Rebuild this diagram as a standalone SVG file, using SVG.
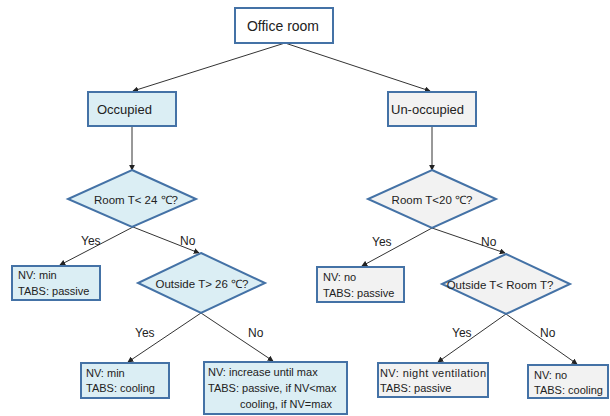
<svg xmlns="http://www.w3.org/2000/svg" width="610" height="416" viewBox="0 0 610 416">
  <style>
    .box { stroke: #4472a6; stroke-width: 2; }
    .white { fill: #ffffff; }
    .blue { fill: #dbeef4; }
    .grey { fill: #f2f2f2; }
    text { font-family: "Liberation Sans", Arial, sans-serif; fill: #222222; }
    .t14 { font-size: 14px; }
    .t13 { font-size: 13px; }
    .t12 { font-size: 12px; }
    .t11 { font-size: 11px; }
    .d { font-size: 11.5px; }
    .edge { stroke: #333333; stroke-width: 1; fill: none; marker-end: url(#arrow); }
  </style>
  <defs>
    <marker id="arrow" viewBox="0 0 8 8" refX="7" refY="4" markerWidth="6" markerHeight="6" orient="auto" markerUnits="userSpaceOnUse">
      <path d="M0,0 L8,4 L0,8 z" fill="#222222"/>
    </marker>
  </defs>
  <rect width="610" height="416" fill="#ffffff"/>

  <g id="connectors">
    <line class="edge" x1="285" y1="43" x2="133" y2="91"/>
    <line class="edge" x1="285" y1="43" x2="430" y2="91"/>
    <line class="edge" x1="132" y1="126" x2="132" y2="170"/>
    <line class="edge" x1="432" y1="126" x2="432" y2="170"/>
    <line class="edge" x1="133" y1="227" x2="60" y2="265"/>
    <line class="edge" x1="133" y1="227" x2="199" y2="253"/>
    <line class="edge" x1="432" y1="228" x2="362" y2="266"/>
    <line class="edge" x1="432" y1="228" x2="505" y2="253"/>
    <line class="edge" x1="201" y1="313" x2="128" y2="362"/>
    <line class="edge" x1="201" y1="313" x2="273" y2="361"/>
    <line class="edge" x1="506" y1="314" x2="438" y2="362"/>
    <line class="edge" x1="506" y1="314" x2="577" y2="364"/>
    <text class="t12" x="81" y="245">Yes</text>
    <text class="t12" x="180" y="245">No</text>
    <text class="t12" x="372" y="246">Yes</text>
    <text class="t12" x="481" y="246">No</text>
    <text class="t12" x="135" y="337">Yes</text>
    <text class="t12" x="248" y="337">No</text>
    <text class="t12" x="452" y="337">Yes</text>
    <text class="t12" x="540" y="337">No</text>
  </g>

  <g id="office-room">
    <rect class="box white" x="235" y="8" width="98" height="35"/>
    <text class="t14" x="283" y="31" text-anchor="middle">Office room</text>
  </g>

  <g id="occupied">
    <rect class="box blue" x="88" y="92" width="88" height="34"/>
    <text class="t13" x="97" y="114">Occupied</text>
  </g>

  <g id="unoccupied">
    <rect class="box grey" x="388" y="92" width="88" height="34"/>
    <text class="t13" x="391" y="114">Un-occupied</text>
  </g>

  <g id="room-t-24">
    <polygon class="box blue" points="132,170 196,199 132,227 68,199"/>
    <text class="d" x="136" y="204" text-anchor="middle">Room T&lt; 24 ℃?</text>
  </g>

  <g id="room-t-20">
    <polygon class="box grey" points="432,170 496,199 432,228 368,199"/>
    <text class="d" x="432" y="204" text-anchor="middle">Room T&lt;20 ℃?</text>
  </g>

  <g id="outside-t-26">
    <polygon class="box blue" points="201,253 265,283 201,313 138,283"/>
    <text class="d" x="202" y="288" text-anchor="middle">Outside T&gt; 26 ℃?</text>
  </g>

  <g id="outside-lt-room">
    <polygon class="box grey" points="506,254 570,284 506,314 442,284"/>
    <text class="d" x="500" y="289" text-anchor="middle">Outside T&lt; Room T?</text>
  </g>

  <g id="occ-yes">
    <rect class="box blue" x="12" y="266" width="88" height="34"/>
    <text class="t11" x="18" y="279">NV: min</text>
    <text class="t11" x="18" y="295">TABS: passive</text>
  </g>

  <g id="occ-no-yes">
    <rect class="box blue" x="81" y="363" width="88" height="35"/>
    <text class="t11" x="86" y="377">NV: min</text>
    <text class="t11" x="86" y="392">TABS: cooling</text>
  </g>

  <g id="occ-no-no">
    <rect class="box blue" x="204" y="362" width="143" height="52"/>
    <text class="t11" x="208" y="376">NV: increase until max</text>
    <text class="t11" x="208" y="392">TABS: passive, if NV&lt;max</text>
    <text class="t11" x="240" y="408">cooling, if NV=max</text>
  </g>

  <g id="unocc-yes">
    <rect class="box grey" x="317" y="267" width="87" height="35"/>
    <text class="t11" x="323" y="281">NV: no</text>
    <text class="t11" x="323" y="297">TABS: passive</text>
  </g>

  <g id="unocc-no-yes">
    <rect class="box grey" x="378" y="363" width="110" height="34"/>
    <text class="t11" x="380" y="377" textLength="106" lengthAdjust="spacing">NV: night ventilation</text>
    <text class="t11" x="380" y="392">TABS: passive</text>
  </g>

  <g id="unocc-no-no">
    <rect class="box grey" x="528" y="365" width="80" height="33"/>
    <text class="t11" x="534" y="379">NV: no</text>
    <text class="t11" x="534" y="394">TABS: cooling</text>
  </g>
</svg>
